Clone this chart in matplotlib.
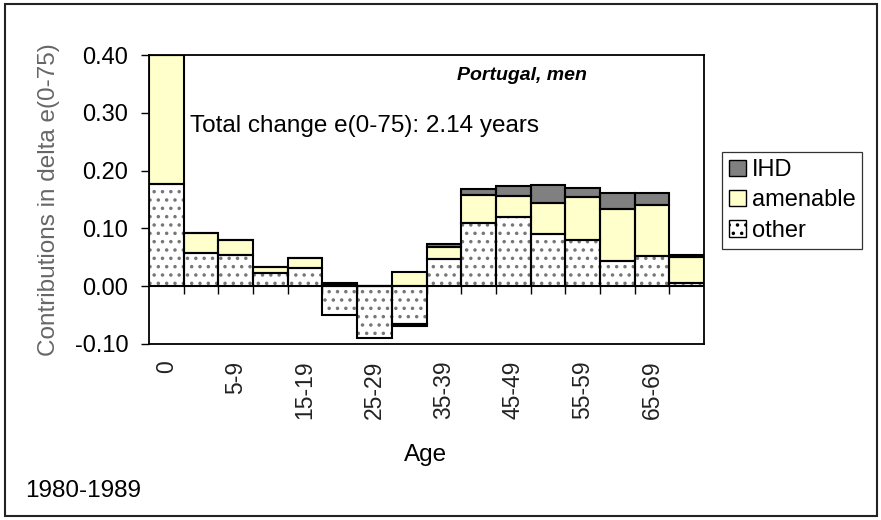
import numpy as np
import matplotlib
matplotlib.use('Agg')
from matplotlib import pyplot as plt
from matplotlib.patches import Patch, Rectangle

plt.rcParams['font.family'] = ['Liberation Sans', 'DejaVu Sans']
plt.rcParams['hatch.linewidth'] = 1.3

ages = ['0', '1-4', '5-9', '10-14', '15-19', '20-24', '25-29', '30-34',
        '35-39', '40-44', '45-49', '50-54', '55-59', '60-64', '65-69', '70-74']
other = [0.177, 0.057, 0.054, 0.022, 0.031, -0.050, -0.090, -0.066,
         0.047, 0.110, 0.120, 0.091, 0.080, 0.044, 0.053, 0.005]
amenable = [0.223, 0.035, 0.026, 0.012, 0.018, 0.003, 0.0, 0.025,
            0.020, 0.047, 0.036, 0.053, 0.075, 0.089, 0.087, 0.046]
ihd = [0.0, 0.0, 0.0, 0.0, 0.0, 0.002, 0.0, -0.003,
       0.006, 0.011, 0.018, 0.031, 0.015, 0.029, 0.021, 0.003]
yticks = [-0.10, 0.00, 0.10, 0.20, 0.30, 0.40]

W, H = 881, 520
fig = plt.figure(figsize=(W / 100, H / 100), dpi=100)


def fx(px):
    return px / W


def fy(py):
    return 1 - py / H


ax = fig.add_axes([fx(149), fy(344), fx(704) - fx(149), fy(55) - fy(344)])
x = np.arange(len(ages))

series = [(other, 'white', '..'), (amenable, '#FFFFCC', None), (ihd, '#808080', None)]
pos = np.zeros(len(ages))
neg = np.zeros(len(ages))
for vals, col, hatch in series:
    v = np.array(vals)
    base = np.where(v >= 0, pos, neg)
    if hatch:
        ax.bar(x, v, 1.0, bottom=base, color=col, edgecolor='#777777',
               hatch=hatch, linewidth=0, zorder=2)
    else:
        ax.bar(x, v, 1.0, bottom=base, color=col, linewidth=0, zorder=2)
    ax.bar(x, v, 1.0, bottom=base, fill=False, edgecolor='black',
           linewidth=1.5, zorder=3)
    pos = np.where(v >= 0, pos + v, pos)
    neg = np.where(v < 0, neg + v, neg)

ax.axhline(0, color='black', lw=1.3, zorder=4)
ax.vlines(x[1:] - 0.5, -0.014, 0, color='black', lw=1, zorder=4)

ax.set_xlim(-0.5, len(ages) - 0.5)
ax.set_ylim(-0.10, 0.40)
ax.set_yticks(yticks)
ax.set_yticklabels(['%.2f' % t for t in yticks], fontsize=17)
ax.set_xticks(x[::2])
ax.set_xticklabels(ages[::2], rotation=90, fontsize=16.5, color='#222222')
ax.tick_params(axis='x', length=0, pad=12)
ax.tick_params(axis='y', length=6, width=1, pad=9, direction='out')
for s in ax.spines.values():
    s.set_linewidth(1.3)
    s.set_zorder(5)

fig.text(fx(190), fy(132), 'Total change e(0-75): 2.14 years', fontsize=17.5,
         va='baseline', ha='left')
fig.text(fx(522), fy(76), 'Portugal, men', fontsize=14, fontweight='bold',
         fontstyle='italic', ha='center', va='center')
fig.text(fx(49), fy(200), 'Contributions in delta e(0-75)', rotation=90,
         fontsize=17.5, color='#666666', ha='center', va='center')
fig.text(fx(426), fy(455), 'Age', fontsize=17.5, ha='center', va='center')
fig.text(fx(25), fy(497), '1980-1989', fontsize=17.5, ha='left', va='baseline')

handles = [Patch(facecolor='#808080', edgecolor='black', label='IHD'),
           Patch(facecolor='#FFFFCC', edgecolor='black', label='amenable'),
           Patch(facecolor='white', edgecolor='black', hatch='..', label='other')]
leg = fig.legend(handles=handles, loc='upper left',
                 bbox_to_anchor=(fx(722), fy(152)), fontsize=17,
                 frameon=True, fancybox=False, edgecolor='black',
                 handlelength=0.7, handleheight=0.7, handletextpad=0.25,
                 labelspacing=0.35, borderpad=0.3, borderaxespad=0)
leg.get_frame().set_linewidth(0.9)

fig.patches.append(Rectangle((fx(5), fy(516)), fx(877) - fx(5), fy(4) - fy(516),
                             transform=fig.transFigure, fill=False,
                             edgecolor='#222222', lw=1.5))

fig.savefig('out.png', dpi=100)
